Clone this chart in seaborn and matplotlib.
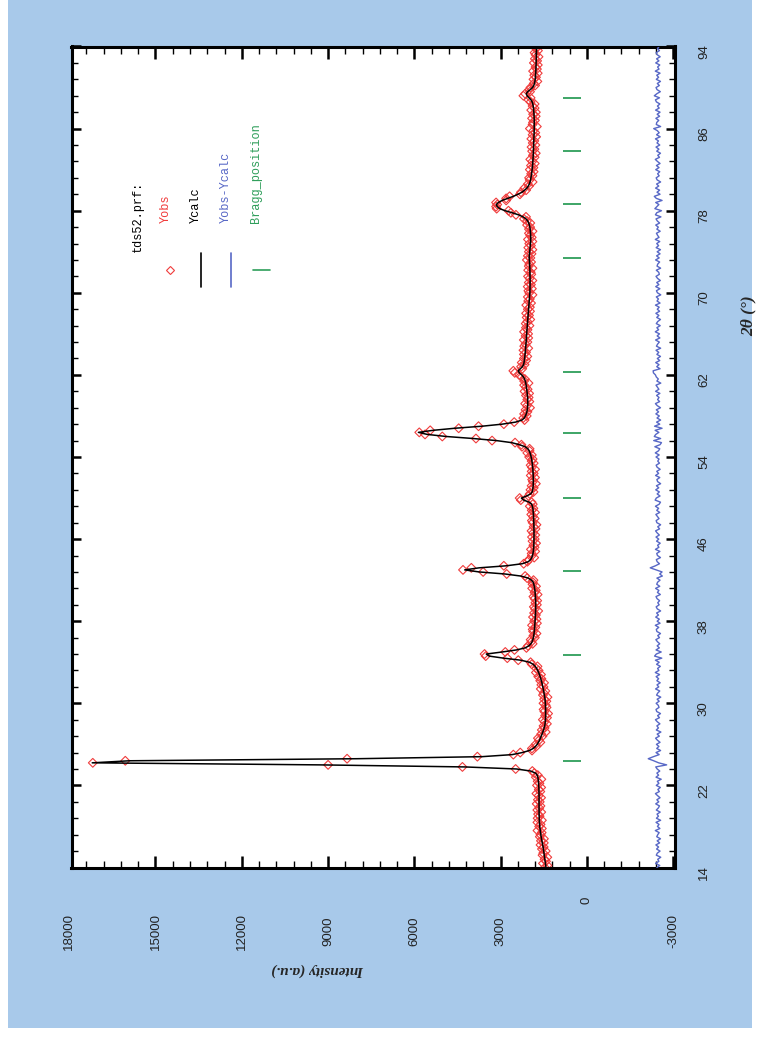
import numpy as np
import pandas as pd
import matplotlib
matplotlib.use("Agg")
import matplotlib.pyplot as plt
import seaborn as sns
from matplotlib.patches import Rectangle
from matplotlib.lines import Line2D
from matplotlib.ticker import FixedLocator
from matplotlib.transforms import ScaledTranslation, blended_transform_factory

# ---------------- data ----------------
# 2theta scan: 14.0 -> 94.0 deg, constant instrument step 0.2 deg
tt_start, tt_stop, tt_step = 14.0, 94.0, 0.2
two_theta = np.round(np.arange(tt_start, tt_stop + tt_step / 2, tt_step), 1)

# calculated profile (one row = 2 degrees, 10 points)
y_calc = [
    1425, 1435, 1445, 1455, 1465, 1475, 1485, 1495, 1505, 1515,   # 14
    1525, 1540, 1555, 1570, 1582, 1594, 1605, 1615, 1625, 1634,   # 16
    1642, 1648, 1653, 1657, 1660, 1662, 1664, 1665, 1666, 1667,   # 18
    1667, 1667, 1667, 1666, 1666, 1666, 1667, 1668, 1670, 1673,   # 20
    1677, 1682, 1688, 1696, 1707, 1730, 1790, 1960, 2450, 4250,   # 22
    9300, 17200, 15900, 8000, 3650, 2600, 2250, 2000, 1870, 1790, # 24
    1730, 1690, 1650, 1620, 1590, 1562, 1535, 1510, 1488, 1470,   # 26
    1458, 1450, 1444, 1440, 1438, 1437, 1437, 1438, 1440, 1443,   # 28
    1447, 1452, 1459, 1468, 1480, 1493, 1507, 1521, 1536, 1551,   # 30
    1567, 1585, 1605, 1628, 1653, 1680, 1712, 1750, 1800, 1870,   # 32
    2000, 2300, 2900, 3400, 3500, 2950, 2450, 2150, 2020, 1950,   # 34
    1910, 1882, 1863, 1850, 1840, 1832, 1826, 1820, 1815, 1810,   # 36
    1805, 1800, 1796, 1792, 1788, 1785, 1783, 1782, 1782, 1783,   # 38
    1785, 1788, 1792, 1797, 1803, 1810, 1820, 1832, 1848, 1870,   # 40
    1930, 2040, 2300, 2850, 3750, 4250, 3750, 2800, 2250, 2040,   # 42
    1960, 1920, 1895, 1878, 1866, 1858, 1852, 1848, 1845, 1843,   # 44
    1842, 1841, 1841, 1841, 1842, 1843, 1844, 1846, 1848, 1851,   # 46
    1854, 1858, 1862, 1867, 1874, 1883, 1897, 1925, 2010, 2200,   # 48
    2280, 2100, 1960, 1905, 1885, 1876, 1870, 1867, 1866, 1866,   # 50
    1867, 1869, 1872, 1876, 1881, 1887, 1894, 1902, 1912, 1925,   # 52
    1940, 1958, 1980, 2010, 2055, 2150, 2350, 2620, 3150, 3950,   # 54
    4900, 5550, 5860, 5350, 4600, 3650, 2950, 2480, 2260, 2180,   # 56
    2140, 2110, 2090, 2075, 2066, 2060, 2058, 2058, 2060, 2064,   # 58
    2070, 2077, 2085, 2094, 2104, 2115, 2128, 2145, 2170, 2210,   # 60
    2270, 2350, 2390, 2320, 2245, 2205, 2188, 2177, 2168, 2160,   # 62
    2152, 2145, 2138, 2132, 2126, 2121, 2116, 2112, 2107, 2102,   # 64
    2097, 2092, 2087, 2081, 2075, 2069, 2063, 2057, 2051, 2045,   # 66
    2040, 2035, 2030, 2025, 2020, 2014, 2008, 2002, 1996, 1990,   # 68
    1986, 1982, 1980, 1979, 1978, 1978, 1978, 1979, 1980, 1981,   # 70
    1982, 1984, 1986, 1989, 1993, 1998, 2004, 2008, 2005, 1998,   # 72
    1990, 1982, 1975, 1968, 1962, 1958, 1956, 1956, 1958, 1962,   # 74
    1968, 1976, 1987, 2002, 2025, 2060, 2120, 2220, 2380, 2600,   # 76
    2850, 3030, 3120, 3150, 3080, 2950, 2750, 2560, 2400, 2260,   # 78
    2170, 2090, 2040, 2005, 1980, 1962, 1948, 1936, 1925, 1915,   # 80
    1906, 1898, 1891, 1886, 1881, 1876, 1872, 1868, 1865, 1862,   # 82
    1859, 1856, 1853, 1850, 1847, 1844, 1841, 1839, 1837, 1835,   # 84
    1834, 1833, 1832, 1832, 1833, 1835, 1838, 1842, 1847, 1853,   # 86
    1860, 1870, 1884, 1905, 1945, 2010, 2080, 2110, 2060, 1970,   # 88
    1895, 1850, 1825, 1810, 1800, 1793, 1787, 1782, 1778, 1775,   # 90
    1772, 1769, 1766, 1764, 1762, 1760, 1758, 1756, 1754, 1752,   # 92
    1750,                                                         # 94
]

# difference Yobs - Ycalc
y_diff = [
    40, -60, 85, -30, 10, -95, 60, 25, -70, 50,        # 14
    -20, 75, -55, 30, -85, 45, 10, -40, 95, -65,       # 16
    20, -35, 70, -90, 55, -15, 35, -75, 60, -10,       # 18
    -50, 80, -25, 40, -70, 15, 90, -45, 5, -80,        # 20
    60, -30, 25, -110, 70, -20, 40, -60, 30, 80,       # 22
    -300, -20, 150, 340, 160, -40, 70, -90, 45, -30,   # 24
    55, -70, 20, 85, -45, 30, -100, 60, -15, 40,       # 26
    -65, 25, 90, -50, 15, -85, 45, 70, -35, -10,       # 28
    65, -40, 30, -95, 50, 10, -60, 85, -25, 35,        # 30
    -75, 40, -20, 65, -55, 95, -30, 15, -80, 50,       # 32
    -40, 90, -130, 120, 60, -110, 70, -45, 30, -60,    # 34
    20, 75, -50, 10, -85, 40, 60, -25, 95, -70,        # 36
    30, -45, 80, -15, 50, -90, 25, 65, -40, 10,        # 38
    -55, 35, 70, -80, 20, -30, 85, -60, 45, 15,        # 40
    -70, 40, -150, -60, -140, 60, 270, 90, -50, 30,    # 42
    60, -85, 20, 45, -65, 90, -30, 15, -75, 50,        # 44
    -25, 70, -45, 30, 85, -55, 10, -90, 40, 65,        # 46
    -35, 20, 75, -60, 45, -20, 90, -40, -85, 100,      # 48
    60, -70, 30, -45, 80, -25, 55, -90, 15, 40,        # 50
    -60, 85, -20, 45, -75, 30, 65, -50, 10, -35,       # 52
    70, -40, 95, -15, -60, 110, -70, -120, 150, -90,   # 54
    130, 80, -30, 100, -140, 120, -60, 50, -90, 35,    # 56
    -45, 75, -20, 60, -85, 25, 90, -55, 15, -35,       # 58
    50, -65, 85, -30, 20, 70, -95, 40, -10, 60,        # 60
    90, 160, 170, -70, 45, -35, 80, -60, 25, -85,      # 62
    40, -25, 70, -90, 55, 15, -45, 85, -65, 30,        # 64
    -50, 95, -20, 40, -75, 60, 10, -85, 45, -30,       # 66
    75, -55, 25, -40, 90, -70, 35, -15, 60, -95,       # 68
    20, 55, -65, 80, -30, 45, -80, 15, 70, -45,        # 70
    -25, 60, -90, 35, 10, -55, 85, -40, 50, -70,       # 72
    30, -85, 65, -20, 45, -60, 95, -35, 15, 55,        # 74
    -75, 40, -10, 80, -55, 25, 70, -100, 90, 45,       # 76
    -120, 110, 40, -30, 80, -140, 60, 130, -70, 35,    # 78
    -55, 85, -25, 50, -90, 30, 65, -40, 15, -60,       # 80
    80, -35, 55, -70, 20, 95, -50, 10, -85, 45,        # 82
    -30, 70, -60, 35, -15, 90, -75, 50, -40, 25,       # 84
    150, -90, 60, 45, -25, 75, -55, 30, -70, 85,       # 86
    -40, 20, -65, 55, 90, -50, 130, 40, -80, 35,       # 88
    70, -45, 25, -85, 60, -20, 45, -70, 95, -35,       # 90
    15, -60, 80, -30, 50, -75, 30, 65, -50, 20,        # 92
    -40,                                               # 94
]

bragg_position = [24.4, 34.7, 42.9, 50.0, 56.3, 62.3, 73.4, 78.65, 83.8, 89.0]

int_ticks = [18000, 15000, 12000, 9000, 6000, 3000, 0, -3000]
tt_ticks = [14, 22, 30, 38, 46, 54, 62, 70, 78, 86, 94]

if not (len(y_calc) == len(y_diff) == len(two_theta)):
    raise SystemExit(f"length mismatch {len(two_theta)} {len(y_calc)} {len(y_diff)}")

diff_offset = -2470
df = pd.DataFrame({
    "two_theta": two_theta,
    "y_calc": y_calc,
    "y_diff": y_diff,
})
df["y_obs"] = df["y_calc"] + df["y_diff"]
df["diff_plot"] = df["y_diff"] + diff_offset

# ---------------- style ----------------
RED = "#f03c3c"
BLUE = "#5868c6"
GREEN = "#2e9e5a"
BG = "#a8c9ea"

sns.set_style("white")
W, H = 762, 1052
fig = plt.figure(figsize=(W / 100, H / 100), dpi=100)
fig.patch.set_facecolor("white")
fig.add_artist(Rectangle((8 / W, 24 / H), (752 - 8) / W, 1 - 24 / H,
                         transform=fig.transFigure, facecolor=BG,
                         edgecolor="none", zorder=-10))

ax = fig.add_axes([71.5 / W, 1 - 867.5 / H, 603.5 / W, 821 / H])
ax.set_facecolor("white")

sns.scatterplot(data=df, x="y_obs", y="two_theta", marker="D", s=20,
                facecolors="none", edgecolor=RED, linewidth=0.8, ax=ax,
                zorder=2)
sns.lineplot(data=df, x="y_calc", y="two_theta", orient="y", sort=False,
             estimator=None, color="black", linewidth=1.1, ax=ax, zorder=3)
sns.lineplot(data=df, x="diff_plot", y="two_theta", orient="y", sort=False,
             estimator=None, color=BLUE, linewidth=1.0, ax=ax, zorder=3)
ax.hlines(bragg_position, 210, 830, colors=GREEN, linewidth=1.3, zorder=3)

ax.set_xlim(17920, -3060)
ax.set_ylim(14, 94)
ax.set_xlabel("")
ax.set_ylabel("")

for sp in ax.spines.values():
    sp.set_linewidth(2.2)
    sp.set_color("black")
    sp.set_visible(True)

ax.xaxis.set_major_locator(FixedLocator(np.arange(-3000, 18001, 3000)))
ax.xaxis.set_minor_locator(FixedLocator(np.arange(-3000, 18001, 600)))
ax.yaxis.set_major_locator(FixedLocator(tt_ticks))
ax.yaxis.set_minor_locator(FixedLocator(np.arange(14, 94.01, 1.6)))

ax.tick_params(axis="both", which="both", direction="in", top=True,
               bottom=True, left=True, right=True, color="black")
ax.tick_params(axis="x", which="major", length=8.6, width=1.8,
               labelbottom=False, labeltop=False)
ax.tick_params(axis="x", which="minor", length=5, width=1.0)
ax.tick_params(axis="y", which="major", length=6.5, width=1.8,
               labelleft=False, labelright=True, pad=16.5,
               labelsize=9.5, labelcolor="#222222")
ax.tick_params(axis="y", which="minor", length=4.3, width=1.0)
ax.set_yticklabels([str(t) for t in tt_ticks], rotation=90, va="center",
                   family="Liberation Sans")
shift = ScaledTranslation(0, -5 / 100, fig.dpi_scale_trans)
for lab in ax.get_yticklabels():
    lab.set_transform(lab.get_transform() + shift)

# intensity tick labels (some lie outside the view limits, so drawn as text)
btrans = blended_transform_factory(ax.transData, fig.transFigure)
for v in int_ticks:
    ymid = 900 if v == 0 else 931
    ax.text(v, 1 - ymid / H, str(v), rotation=90, ha="center", va="center",
            transform=btrans, family="Liberation Sans", size=9.5,
            color="#222222", clip_on=False)

fig.text(318 / W, 1 - 970 / H, "Intensity (a.u.)", rotation=180,
         ha="center", va="center", family="Liberation Serif",
         weight="bold", style="italic", size=11)
fig.text(749 / W, 1 - 316 / H, "2θ (°)", rotation=90, ha="center",
         va="center", family="Liberation Serif", weight="bold",
         style="italic", size=12.5)

# legend (rotated, as in the original WinPLOTR export)
mono = dict(rotation=90, ha="center", va="bottom", family="Liberation Mono",
            size=8.6)
fig.text(138 / W, 1 - 252 / H, "tds52.prf:", color="black", **mono)
fig.text(166 / W, 1 - 223 / H, "Yobs", color=RED, **mono)
fig.text(196 / W, 1 - 223 / H, "Ycalc", color="black", **mono)
fig.text(226 / W, 1 - 223 / H, "Yobs-Ycalc", color=BLUE, **mono)
fig.text(256 / W, 1 - 223 / H, "Bragg_position", color=GREEN, **mono)
fig.add_artist(Line2D([170 / W], [1 - 270 / H], marker="D", markersize=4,
                      markerfacecolor="none", markeredgecolor=RED,
                      markeredgewidth=0.8, linestyle="none",
                      transform=fig.transFigure))
fig.add_artist(Line2D([201 / W] * 2, [1 - 253 / H, 1 - 287 / H],
                      color="black", linewidth=1.2, transform=fig.transFigure))
fig.add_artist(Line2D([231 / W] * 2, [1 - 253 / H, 1 - 287 / H],
                      color=BLUE, linewidth=1.2, transform=fig.transFigure))
fig.add_artist(Line2D([253 / W, 270 / W], [1 - 270 / H] * 2,
                      color=GREEN, linewidth=1.2, transform=fig.transFigure))

fig.savefig("out.png", dpi=100, facecolor=fig.get_facecolor())
